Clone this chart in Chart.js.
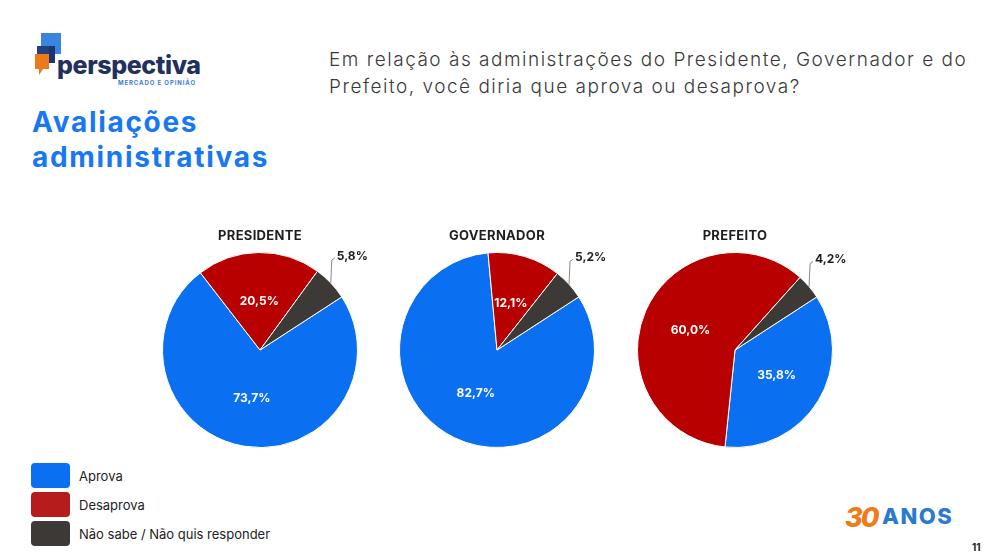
<!DOCTYPE html>
<html>
<head>
<meta charset="utf-8">
<script src="https://cdn.jsdelivr.net/npm/chart.js@4"></script>
<style>
  body { margin: 0; width: 995px; height: 557px; background: #fff; position: relative; overflow: hidden; font-family: Inter, "Noto Sans", sans-serif; }
  .abs { position: absolute; }
  .pie { position: absolute; width: 240px; height: 240px; }
  .pie-title { position: absolute; width: 200px; text-align: center; font-weight: 700; font-size: 13px; color: #1e1e1e; letter-spacing: 0.3px; }
  .legend-item { position: absolute; left: 31px; height: 25px; display: flex; align-items: center; }
  .legend-item span.box { width: 39px; height: 25px; border-radius: 4px; display: inline-block; }
  .legend-item span.txt { margin-left: 9px; font-size: 13px; color: #222; }
</style>
</head>
<body>
<svg class="abs" style="left:34px;top:32px" width="30" height="46">
  <rect x="7" y="1" width="20" height="21" fill="#3a85e0"/>
  <rect x="3" y="14" width="18" height="17" fill="#1f3470"/>
  <path d="M1 22 h14 v15 h-6 l-4 6 v-6 h-4 z" fill="#ec7a1c"/>
  <rect x="3" y="14" width="12" height="8" fill="#23407f"/>
</svg>
<div class="abs" style="left:57px;top:50px;font-size:25px;font-weight:800;color:#23305e;letter-spacing:-0.4px">perspectiva</div>
<div class="abs" style="left:118px;top:79px;font-size:6px;font-weight:700;color:#3a7bd5;letter-spacing:0.9px">MERCADO E OPINIÃO</div>

<div class="abs" style="left:32px;top:105px;font-size:28px;font-weight:700;color:#1877f2;line-height:35px;letter-spacing:1.7px">Avaliações<br>administrativas</div>

<div class="abs" style="left:329px;top:46px;font-size:19px;font-weight:300;color:#3a3a3a;line-height:27px;letter-spacing:1.5px">Em relação às administrações do Presidente, Governador e do<br>Prefeito, você diria que aprova ou desaprova?</div>

<div id="pies"></div>
<div id="legend"></div>

<div class="abs" style="left:845px;top:501px;font-size:27px;font-weight:800;font-style:italic;color:#f07b1a;letter-spacing:-2px">30</div>
<div class="abs" style="left:882px;top:503px;font-size:22px;font-weight:800;color:#2a7bd0;letter-spacing:1.5px">ANOS</div>
<div class="abs" style="left:972px;top:541px;font-size:10px;font-weight:700;color:#222">11</div>

<script>
const groups = ["PRESIDENTE", "GOVERNADOR", "PREFEITO"];
const categories = ["Aprova", "Desaprova", "Não sabe / Não quis responder"];
const aprova = [73.7, 82.7, 35.8];
const desaprova = [20.5, 12.1, 60.0];
const naoSabe = [5.8, 5.2, 4.2];

const sliceColors = ["#0a6ff0", "#b80000", "#3d3936"];
const legendColors = ["#0a6ff0", "#b71c1c", "#3d3936"];
const centersX = [260, 497, 735];
const centerY = 350;

const fmt = (v) => v.toFixed(1).replace(".", ",") + "%";

const sliceLabels = {
  id: "sliceLabels",
  afterDatasetsDraw(chart) {
    const ctx = chart.ctx;
    const meta = chart.getDatasetMeta(0);
    const values = chart.data.datasets[0].data;
    ctx.save();
    ctx.font = "700 12px Inter, sans-serif";
    meta.data.forEach((arc, i) => {
      if (i < 2) {
        const pos = arc.tooltipPosition();
        ctx.fillStyle = "#fff";
        ctx.textAlign = "center";
        ctx.textBaseline = "middle";
        ctx.fillText(fmt(values[i]), pos.x, pos.y);
      } else {
        const mid = (arc.startAngle + arc.endAngle) / 2;
        const ex = arc.x + Math.cos(mid) * arc.outerRadius;
        const ey = arc.y + Math.sin(mid) * arc.outerRadius;
        ctx.strokeStyle = "#8a8a8a";
        ctx.lineWidth = 1;
        ctx.beginPath();
        ctx.moveTo(ex, ey);
        ctx.lineTo(ex + 1, ey - 23);
        ctx.lineTo(ex + 4, ey - 25);
        ctx.stroke();
        ctx.fillStyle = "#1e1e1e";
        ctx.textAlign = "left";
        ctx.textBaseline = "middle";
        ctx.fillText(fmt(values[i]), ex + 6, ey - 27);
      }
    });
    ctx.restore();
  },
};

const pies = document.getElementById("pies");
groups.forEach((name, g) => {
  const box = document.createElement("div");
  box.className = "pie";
  box.style.left = (centersX[g] - 120) + "px";
  box.style.top = (centerY - 120) + "px";
  const canvas = document.createElement("canvas");
  box.appendChild(canvas);
  pies.appendChild(box);

  const title = document.createElement("div");
  title.className = "pie-title";
  title.textContent = name;
  title.style.left = (centersX[g] - 100) + "px";
  title.style.top = "227px";
  document.body.appendChild(title);

  new Chart(canvas, {
    type: "pie",
    data: {
      labels: categories,
      datasets: [{
        data: [aprova[g], desaprova[g], naoSabe[g]],
        backgroundColor: sliceColors,
        borderColor: "#ffffff",
        borderWidth: 1,
      }],
    },
    options: {
      responsive: true,
      maintainAspectRatio: false,
      animation: false,
      rotation: 57,
      layout: { padding: 22 },
      plugins: { legend: { display: false }, tooltip: { enabled: false } },
    },
    plugins: [sliceLabels],
  });
});

const legend = document.getElementById("legend");
categories.forEach((label, i) => {
  const item = document.createElement("div");
  item.className = "legend-item";
  item.style.top = (463 + i * 29) + "px";
  item.innerHTML = '<span class="box" style="background:' + legendColors[i] + '"></span><span class="txt">' + label + "</span>";
  legend.appendChild(item);
});
</script>
</body>
</html>
